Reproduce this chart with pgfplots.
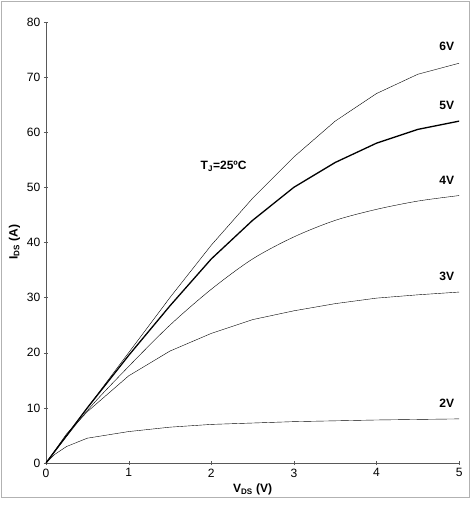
\documentclass[border=0pt]{standalone}
\usepackage{pgfplots}
\pgfplotsset{compat=1.18}
\usepackage{fontspec}
\setmainfont{Liberation Sans}
\begin{document}
\begin{tikzpicture}
\useasboundingbox (-1.61cm,-1.855cm) rectangle (14.84cm,16.205cm);
\draw[gray!60] (-1.58cm,-1.2cm) rectangle (14.8cm,16.17cm);
\begin{axis}[width=14.46cm,height=15.44cm,scale only axis,
 xmin=0,xmax=5,ymin=0,ymax=80,
 axis lines=left, axis line style={-,gray!70!black},
 xtick={0,...,5}, ytick={0,10,...,80},
 tick style={gray!70!black},
 /pgf/number format/assume math mode=true,
 ticklabel style={font=\large},
 xlabel={\textbf{V\textsubscript{DS} (V)}}, ylabel={\textbf{I\textsubscript{DS} (A)}},
 label style={font=\large},
 cycle list={{black,line width=1.3pt,smooth,no marks}}]
\addplot coordinates {(0,0)(0.5,10)(1,20)(1.5,30)(2,39.5)(2.5,48)(3,55.5)(3.5,62)(4,67)(4.5,70.5)(5,72.5)};
\addplot coordinates {(0,0)(0.5,10)(1,19.5)(1.5,28.5)(2,37)(2.5,44)(3,50)(3.5,54.5)(4,58)(4.5,60.5)(5,62)};
\addplot coordinates {(0,0)(0.5,9.5)(1,17.5)(1.5,25)(2,31.5)(2.5,37)(3,41)(3.5,44)(4,46)(4.5,47.5)(5,48.5)};
\addplot coordinates {(0,0)(0.25,5.3)(0.5,9.3)(1,15.8)(1.5,20.3)(2,23.5)(2.5,26)(3,27.6)(3.5,28.9)(4,29.9)(4.5,30.5)(5,31)};
\addplot coordinates {(0,0)(0.1,1.5)(0.25,3)(0.5,4.5)(1,5.7)(1.5,6.5)(2,7)(3,7.5)(4,7.8)(5,8)};
\node[font=\bfseries\large] at (axis cs:4.85,75.5) {6V};
\node[font=\bfseries\large] at (axis cs:4.85,64.8) {5V};
\node[font=\bfseries\large] at (axis cs:4.85,51.3) {4V};
\node[font=\bfseries\large] at (axis cs:4.85,33.8) {3V};
\node[font=\bfseries\large] at (axis cs:4.85,10.8) {2V};
\node[font=\bfseries\large] at (axis cs:2.15,53.8) {T\textsubscript{J}=25ºC};
\end{axis}
\end{tikzpicture}
\end{document}
